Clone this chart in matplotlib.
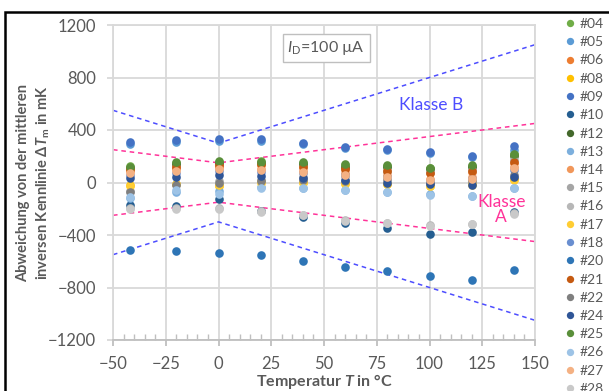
import matplotlib
matplotlib.use("Agg")
import matplotlib.pyplot as plt
from matplotlib.patches import Rectangle

plt.rcParams["font.family"] = ["Lato", "DejaVu Sans"]
plt.rcParams["mathtext.fontset"] = "custom"
plt.rcParams["mathtext.rm"] = "Lato"
plt.rcParams["mathtext.it"] = "Lato:italic"
plt.rcParams["mathtext.bf"] = "Lato:bold"
plt.rcParams["mathtext.bfit"] = "Lato:italic:bold"

# measurement temperatures in degC
temps = [-42, -20, 0, 20, 40, 60, 80, 100, 120, 140]

# deviation from mean inverse characteristic in mK, per sensor
sensors = ["#04", "#05", "#06", "#08", "#09", "#10", "#12", "#13", "#14", "#15", "#16",
           "#17", "#18", "#20", "#21", "#22", "#24", "#25", "#26", "#27", "#28"]
d04 = [125, 150, 160, 165, 150, 135, 125, 110, 125, 215]
d05 = [290, 305, 315, 315, 295, 265, 250, 225, 195, 250]
d06 = [95, 115, 125, 130, 115, 100, 85, 70, 80, 150]
d08 = [-20, -10, -25, 12, 5, -5, -10, -25, -15, 30]
d09 = [310, 325, 335, 330, 300, 270, 255, 230, 200, 275]
d10 = [-175, -178, -125, -215, -265, -310, -350, -395, -375, -225]
d12 = [110, 140, 150, 150, 140, 120, 115, 100, 115, 205]
d13 = [-120, -70, -65, -35, -40, -55, -70, -90, -100, -40]
d14 = [85, 100, 110, 105, 90, 70, 55, 30, 40, 120]
d15 = [-65, -10, 15, 20, 40, 50, 90, 80, 95, 170]
d16 = [-195, -195, -195, -220, -245, -285, -305, -325, -315, -235]
d17 = [-30, -15, -20, 0, 0, -10, -15, -30, -20, 20]
d18 = [60, 75, 85, 80, 70, 55, 45, 15, 25, 95]
d20 = [-515, -520, -535, -555, -600, -640, -672, -710, -742, -669]
d21 = [100, 120, 130, 140, 120, 105, 90, 75, 85, 155]
d22 = [-75, -20, 0, 10, 20, 10, 20, 0, 10, 60]
d24 = [35, 45, 55, 50, 35, 20, 0, -15, -20, 45]
d25 = [120, 155, 165, 160, 155, 140, 130, 112, 130, 220]
d26 = [-110, -60, -90, -40, -45, -60, -75, -92, -105, -45]
d27 = [75, 90, 100, 95, 80, 60, 45, 20, 30, 110]
d28 = [-200, -200, -200, -225, -250, -290, -310, -330, -318, -238]
values = [d04, d05, d06, d08, d09, d10, d12, d13, d14, d15, d16,
          d17, d18, d20, d21, d22, d24, d25, d26, d27, d28]
colors = ["#70AD47", "#5B9BD5", "#ED7D31", "#FFC000", "#4472C4", "#255E91", "#43682B",
          "#7CAFDD", "#F1975A", "#A5A5A5", "#B7B7B7", "#FFCD33", "#698ED0", "#2E75B6",
          "#C55A11", "#7F7F7F", "#2F5597", "#5A8F3A", "#9DC3E6", "#F4B183", "#C9C9C9"]

# tolerance limits (class A / class B)
limit_t = [-50, 0, 150]
klasse_a_up = [250, 150, 450]
klasse_a_low = [-250, -150, -450]
klasse_b_up = [550, 300, 1050]
klasse_b_low = [-550, -300, -1050]

fig = plt.figure(figsize=(6.09, 3.91), dpi=100)
ax = fig.add_axes([113 / 609, 1 - 340 / 391, 422 / 609, 315 / 391])

grid_c = "#D9D9D9"
text_c = "#595959"

for lab, vals, col in zip(sensors, values, colors):
    ax.plot(temps, vals, linestyle="none", marker="o", markersize=6.2,
            color=col, markeredgewidth=0, label=lab, zorder=3)

ax.plot(limit_t, klasse_b_up, color="#4D4DFF", ls=(0, (3, 2.5)), lw=1.1, zorder=2)
ax.plot(limit_t, klasse_b_low, color="#4D4DFF", ls=(0, (3, 2.5)), lw=1.1, zorder=2)
ax.plot(limit_t, klasse_a_up, color="#FF3399", ls=(0, (3, 2.5)), lw=1.1, zorder=2)
ax.plot(limit_t, klasse_a_low, color="#FF3399", ls=(0, (3, 2.5)), lw=1.1, zorder=2)

ax.text(101, 594, "Klasse B", color="#4D4DFF", fontsize=12.5, ha="center", va="center")
ax.text(134, -208, "Klasse\nA", color="#FF3399", fontsize=12.5, ha="center", va="center",
        linespacing=0.95)
ax.text(51, 1026, r"$I_\mathrm{D}$=100 µA", color=text_c, fontsize=11.5, ha="center",
        va="center", bbox=dict(boxstyle="square,pad=0.3", fc="white", ec="#BFBFBF", lw=1))

ax.set_xlim(-50, 150)
ax.set_ylim(-1200, 1200)
ax.set_xticks(range(-50, 151, 25))
ax.set_xticks(range(-50, 151, 5), minor=True)
ax.set_yticks(range(-1200, 1201, 400))
ax.grid(True, color=grid_c, lw=1.3, zorder=0)
for s in ax.spines.values():
    s.set_color(grid_c)
    s.set_linewidth(1.3)
ax.spines["bottom"].set_color("#BFBFBF")
ax.tick_params(axis="both", which="major", length=4, width=1.3, color=grid_c,
               labelsize=12, labelcolor=text_c)
ax.tick_params(axis="x", which="major", pad=7.5, color="#BFBFBF")
ax.tick_params(axis="y", which="major", pad=8)
ax.tick_params(axis="x", which="minor", direction="in", length=4, width=1, color="#BFBFBF")

ax.set_xlabel(r"Temperatur $\mathbfit{T}$ in °C", fontsize=11.5, fontweight="bold",
              color=text_c, labelpad=0)
ax.set_ylabel("Abweichung von der mittleren\ninversen Kennlinie Δ$\\mathbfit{T}_\\mathbf{m}$ in mK",
              fontsize=10.5, fontweight="bold", color=text_c, labelpad=-3, linespacing=1.4)

fig.legend(loc="upper left", bbox_to_anchor=(565 / 609, 1 - 18 / 391), frameon=False,
           fontsize=10, labelcolor=text_c, markerscale=0.85, handlelength=0.7,
           handletextpad=0.35, labelspacing=0.45, borderaxespad=0, borderpad=0)

fig.add_artist(Rectangle((5 / 609, -0.2), 2, 1.2 - 12 / 391, transform=fig.transFigure,
                         fill=False, ec="black", lw=1.8))

fig.savefig("out.png", dpi=100)
